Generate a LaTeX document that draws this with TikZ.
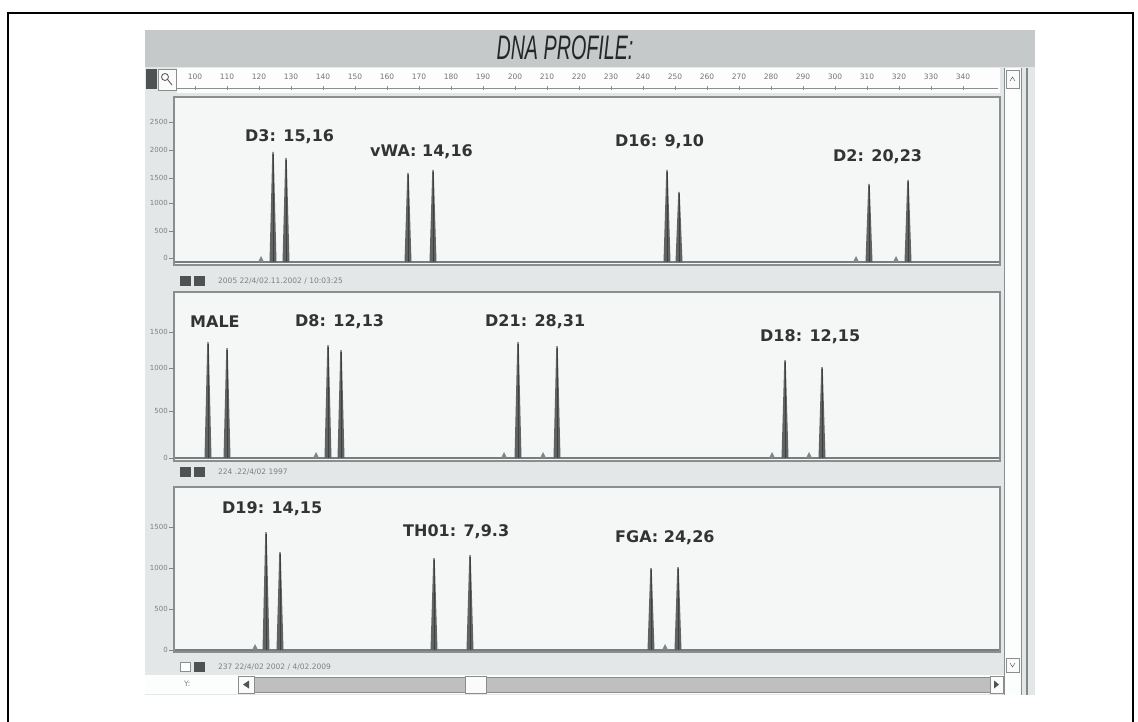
\documentclass[tikz,border=0pt]{standalone}
\usepackage{fontspec}
\setmainfont{DejaVu Sans}
\newfontfamily\titlefont{Liberation Sans}
\usetikzlibrary{positioning}
\definecolor{winbg}{HTML}{E4E7E7}
\definecolor{titlebg}{HTML}{C5C9C9}
\definecolor{paper}{HTML}{F5F7F6}
\definecolor{trace}{HTML}{4E5252}
\definecolor{frame}{HTML}{8A8E8E}

\begin{document}
\begin{tikzpicture}[x=1pt,y=-1pt,
    panel/.style={draw=frame,line width=1.3pt,fill=paper},
    allele/.style={font=\bfseries\fontsize{16}{16}\selectfont,text=black!80,inner sep=0pt,anchor=west},
    ylab/.style={font=\fontsize{7}{7}\selectfont,text=black!50,inner sep=0pt,anchor=east},
    rulerlab/.style={font=\fontsize{7.5}{8}\selectfont,text=black!55,inner sep=0pt},
    runinfo/.style={font=\fontsize{7.5}{8}\selectfont,text=black!50,inner sep=0pt,anchor=west},
    btn/.style={draw=frame,fill=white!85!winbg,line width=0.8pt}]
    \useasboundingbox (0,0) rectangle (1138,722);
    % page frame
    \draw[line width=2.6pt,line cap=rect] (8,722) -- (8,13) -- (1133,13) -- (1133,722);
    % window and title band
    \fill[winbg] (145,30) rectangle (1035,695);
    \fill[titlebg] (145,30) rectangle (1035,67);
    \node[font=\titlefont\itshape\fontsize{34}{34}\selectfont,text=black!85,xscale=0.58] (title) at (565,48) {DNA PROFILE:};
    % ruler
    \fill[white!92!winbg] (177,68) rectangle (1000,93);
    \draw[frame,line width=0.8pt] (177,88) -- (998,88);
    \foreach \n [count=\i from 0] in {100,110,...,340} {
        \node[rulerlab] (r\i) at (195+\i*32,77) {\n};
        \draw[frame] (195+\i*32,86) -- (195+\i*32,90);
    }
    \fill[trace] (146,69) rectangle (157,89);
    \draw[btn] (158,69) rectangle (176,90);
    \draw[trace,line width=0.8pt] (165,77) circle (3.5) (168,80) -- (172,85);
    % right scroll column
    \fill[white!90!winbg] (1004,68) rectangle (1021,695);
    \draw[frame,line width=0.8pt] (1004,68) -- (1004,695) (1021,68) -- (1021,695);
    \draw[trace!70,line width=1.5pt] (1027,68) -- (1027,695);
    \draw[btn] (1006,70) rectangle (1019,88);
    \draw[btn] (1006,658) rectangle (1019,672);
    \draw[trace] (1010,81) -- (1012.5,77) -- (1015,81);
    \draw[trace] (1010,663) -- (1012.5,667) -- (1015,663);
    % panels with baselines
    \foreach \top/\bot/\base in {97/265/262, 292/461/458, 487/652/650} {
        \draw[panel] (174,\top) rectangle (1000,\bot);
        \draw[trace!75,line width=2pt] (175,\base) -- (999,\base);
    }
    % y axis labels
    \foreach \v/\y [count=\i] in {2500/122,2000/150,1500/178,1000/203,500/231,0/258,
                                 1500/332,1000/368,500/411,0/458,
                                 1500/527,1000/568,500/609,0/650} {
        \node[ylab] (y\i) at (168,\y) {\v};
        \draw[trace!70] (169,\y) -- (174,\y);
    }
    % peaks
    \foreach \x/\t/\b in {273/152/262, 286/158/262, 408/173/262, 433/170/262,
                          667/170/262, 679/192/262, 869/184/262, 908/180/262,
                          208/342/458, 227/348/458, 328/345/458, 341/350/458,
                          518/342/458, 557/346/458, 785/360/458, 822/367/458,
                          266/532/650, 280/552/650, 434/558/650, 470/555/650,
                          651/568/650, 678/567/650} {
        \fill[trace!90] (\x-3.5,\b) -- (\x-0.7,\t) -- (\x+0.7,\t) -- (\x+3.5,\b) -- cycle;
        \draw[black!75,line width=0.8pt] (\x,\t+2) -- (\x,\b);
    }
    % stutter bumps
    \foreach \x/\b in {261/262, 856/262, 896/262, 316/458, 504/458, 543/458,
                       772/458, 809/458, 255/650, 665/650} {
        \fill[trace!70] (\x-3,\b) -- (\x,\b-6) -- (\x+3,\b) -- cycle;
    }
    % allele calls
    \node[allele] (d3)   at (245,137) {D3: 15,16};
    \node[allele] (vwa)  at (370,152) {vWA: 14,16};
    \node[allele] (d16)  at (615,142) {D16: 9,10};
    \node[allele] (d2)   at (833,157) {D2: 20,23};
    \node[allele] (male) at (190,322) {MALE};
    \node[allele] (d8)   at (295,322) {D8: 12,13};
    \node[allele] (d21)  at (485,322) {D21: 28,31};
    \node[allele] (d18)  at (760,337) {D18: 12,15};
    \node[allele] (d19)  at (222,509) {D19: 14,15};
    \node[allele] (th01) at (403,532) {TH01: 7,9.3};
    \node[allele] (fga)  at (615,538) {FGA: 24,26};
    % run info lines
    \foreach \y/\txt [count=\i] in {281/{2005 22/4/02.11.2002 / 10:03:25},
                                    472/{224 .22/4/02 1997},
                                    667/{237 22/4/02 2002 / 4/02.2009}} {
        \fill[trace] (194,\y-5) rectangle (205,\y+5);
        \node[runinfo] (run\i) at (218,\y) {\txt};
    }
    \fill[trace] (180,276) rectangle (191,286);
    \fill[trace] (180,467) rectangle (191,477);
    \draw[frame,fill=white,line width=0.8pt] (180.5,662.5) rectangle (190.5,671.5);
    % horizontal scroll bar
    \fill[white!90!winbg] (145,675) rectangle (1004,694);
    \node[runinfo] (ylab) at (184,684) {Y:};
    \draw[btn] (238,676) rectangle (254,693);
    \fill[trace] (243,684.5) -- (249,680.5) -- (249,688.5) -- cycle;
    \draw[frame,fill=black!25] (254,677) rectangle (990,692);
    \draw[btn] (465,676) rectangle (486,693);
    \draw[btn] (990,676) rectangle (1003,693);
    \fill[trace] (999,684.5) -- (994,680.5) -- (994,688.5) -- cycle;
\end{tikzpicture}
\end{document}
